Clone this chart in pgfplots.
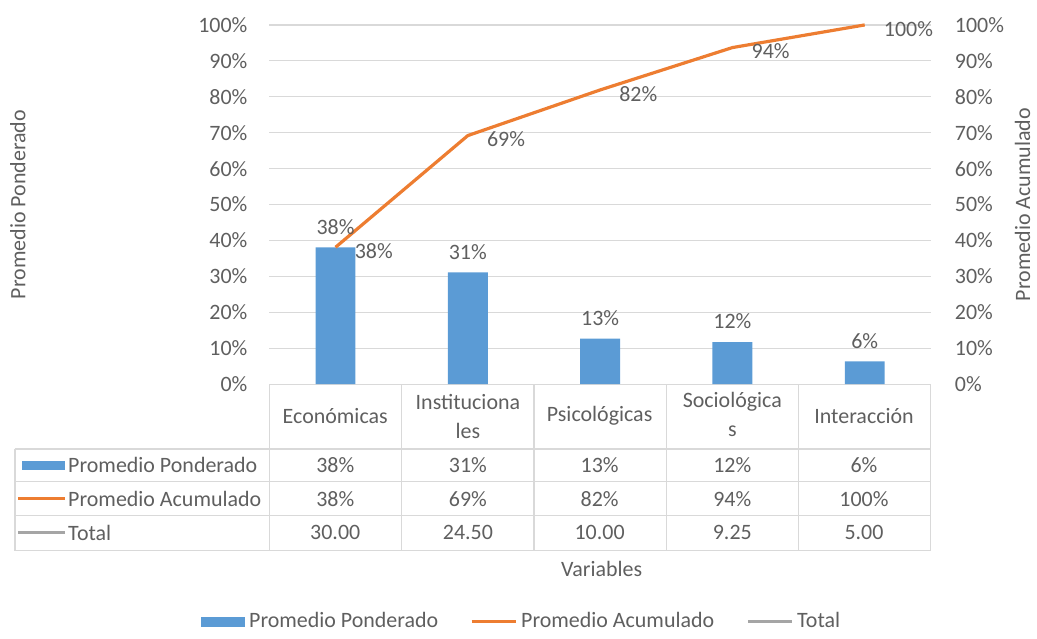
\documentclass[border=0pt]{standalone}
\usepackage{pgfplots}
\pgfplotsset{compat=1.18}
\usepackage{fontspec}
\setmainfont{Carlito}
\definecolor{cblue}{HTML}{5B9BD5}
\definecolor{corange}{HTML}{ED7D31}
\definecolor{cgray}{HTML}{A5A5A5}
\definecolor{ctext}{HTML}{5F5F5F}
\definecolor{cgrid}{HTML}{D9D9D9}
\newcommand{\fs}{\fontsize{11}{16}\selectfont}
\begin{document}
\begin{tikzpicture}
\begin{scope}[x=0.5pt,y=-0.5pt]
\path[use as bounding box] (0,0) rectangle (1037,639);
\end{scope}

\begin{axis}[
  at={(135pt,-192.5pt)}, anchor=south west, scale only axis,
  width=331.5pt, height=180pt,
  xmin=0.5, xmax=5.5, ymin=0, ymax=100,
  xtick=\empty, ytick={0,10,...,100},
  /pgf/number format/assume math mode=true,
  yticklabel={\pgfmathprintnumber{\tick}\%},
  yticklabel style={font=\fs, text=ctext, xshift=-7.5pt},
  ymajorgrids, major grid style={cgrid, line width=0.6pt},
  axis line style={draw=none}, major tick style={draw=none},
  clip=false,
  legend style={at={(0.383,-0.661)}, anchor=center, draw=none, fill=none,
    font=\fs, text=ctext, legend columns=3,
    /tikz/every even column/.append style={column sep=14pt}},
  legend cell align=left,
]
\addplot[ybar, bar width=20pt, bar shift=0pt, fill=cblue, draw=none,
  point meta=y,
  nodes near coords={\pgfmathprintnumber[fixed,precision=0]{\pgfplotspointmeta}\%},
  every node near coord/.append style={font=\fs, text=ctext, anchor=south, yshift=3pt},
  legend image code/.code={\fill[cblue] (0pt,-2.5pt) rectangle (22pt,2.5pt);}]
  coordinates {(1,38.1) (2,31.1) (3,12.7) (4,11.7) (5,6.3)};
\addlegendentry{Promedio Ponderado}
\addplot[corange, line width=1.6pt, mark=none, point meta=y,
  nodes near coords={\pgfmathprintnumber[fixed,precision=0]{\pgfplotspointmeta}\%},
  every node near coord/.append style={font=\fs, text=ctext, anchor=west, xshift=5.5pt, yshift=-2pt},
  legend image code/.code={\draw[corange, line width=1.6pt] (0pt,0pt) -- (22pt,0pt);}]
  coordinates {(1,38.1) (2,69.2) (3,81.9) (4,93.7) (5,100)};
\addlegendentry{Promedio Acumulado}
\addlegendimage{cgray, line width=1.6pt, legend image code/.code={\draw[cgray, line width=1.6pt] (0pt,0pt) -- (22pt,0pt);}}
\addlegendentry{Total}
\end{axis}

\begin{axis}[
  at={(135pt,-192.5pt)}, anchor=south west, scale only axis,
  width=331.5pt, height=180pt,
  xmin=0.5, xmax=5.5, ymin=0, ymax=100,
  axis y line*=right, axis x line=none,
  ytick={0,10,...,100},
  /pgf/number format/assume math mode=true,
  yticklabel={\pgfmathprintnumber{\tick}\%},
  yticklabel style={font=\fs, text=ctext, xshift=8.5pt},
  axis line style={draw=none}, major tick style={draw=none},
]
\end{axis}

\begin{scope}[x=0.5pt,y=-0.5pt, every node/.style={font=\fs, text=ctext}]
  % table grid
  \foreach \xx in {270,402.6,535.2,667.8,800.4,933}
    \draw[cgrid, line width=0.6pt] (\xx,385) -- (\xx,552);
  \draw[cgrid, line width=0.6pt] (15,450) -- (15,552);
  \foreach \yy in {450,483,517,552}
    \draw[cgrid, line width=0.6pt] (15,\yy) -- (933,\yy);
  % header
  \node at (336,417) {Económicas};
  \node at (469,403) {Instituciona};
  \node at (469,432) {les};
  \node at (601,417) {Psicológicas};
  \node at (734,403) {Sociológica};
  \node at (734,432) {s};
  \node at (866,417) {Interacción};
  % row labels
  \fill[cblue] (22,462) rectangle (65,471);
  \node[anchor=west, inner sep=1pt] at (66,466) {Promedio Ponderado};
  \draw[corange, line width=1.6pt] (18,500) -- (65,500);
  \node[anchor=west, inner sep=1pt] at (66,500) {Promedio Acumulado};
  \draw[cgray, line width=1.6pt] (18,534) -- (65,534);
  \node[anchor=west, inner sep=1pt] at (66,534) {Total};
  % values
  \foreach \xx/\a/\b/\c in {336/38\%/38\%/30.00, 469/31\%/69\%/24.50, 601/13\%/82\%/10.00, 734/12\%/94\%/9.25, 866/6\%/100\%/5.00}{
    \node at (\xx,466) {\a};
    \node at (\xx,500) {\b};
    \node at (\xx,534) {\c};
  }
  \node at (603,570) {Variables};
  \node[rotate=90] at (18,205) {Promedio Ponderado};
  \node[rotate=90] at (1025,205) {Promedio Acumulado};
\end{scope}
\end{tikzpicture}
\end{document}
